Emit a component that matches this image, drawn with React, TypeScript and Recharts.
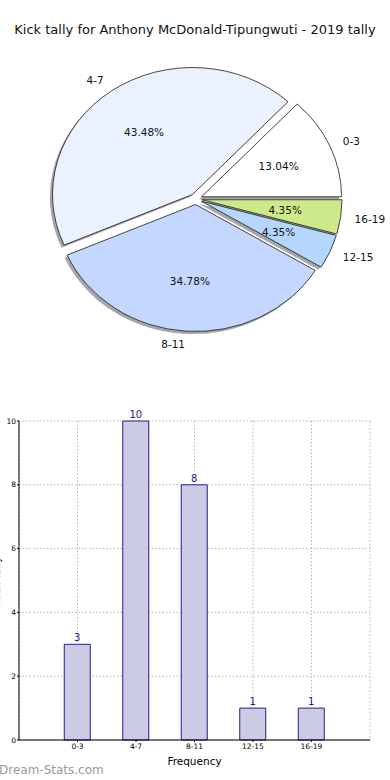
import React from 'react';
import { PieChart, Pie, BarChart, Bar, XAxis, YAxis, CartesianGrid, LabelList, Cell } from 'recharts';

const title = 'Kick tally for Anthony McDonald-Tipungwuti - 2019 tally';
const categories = ['0-3', '4-7', '8-11', '12-15', '16-19'];
const tallies = [3, 10, 8, 1, 1];
const sliceColors = ['#ffffff', '#eaf2ff', '#c4d8ff', '#b5d6ff', '#cdea8a'];
const yTicks = [0, 2, 4, 6, 8, 10];
const xAxisTitle = 'Frequency';
const yAxisTitle = 'Kick Tally';
const watermark = 'Dream-Stats.com';

const pieData = categories.map((name, i) => ({ name, value: tallies[i] }));
const barData = categories.map((name, i) => ({ name, value: tallies[i] }));

const FONT = '"DejaVu Sans", Verdana, sans-serif';
const RAD = Math.PI / 180;
const SX = 140 / 127;
const EXPLODE = 5.5;

const offsetFor = (mid: number) => ({
  dx: EXPLODE * SX * Math.cos(mid * RAD),
  dy: -EXPLODE * Math.sin(mid * RAD),
});

const ellPath = (cx: number, cy: number, r: number, start: number, end: number) => {
  const a0 = Math.min(start, end);
  const a1 = Math.max(start, end);
  const rx = r * SX;
  const ry = r;
  const x0 = cx + rx * Math.cos(a0 * RAD);
  const y0 = cy - ry * Math.sin(a0 * RAD);
  const x1 = cx + rx * Math.cos(a1 * RAD);
  const y1 = cy - ry * Math.sin(a1 * RAD);
  const large = a1 - a0 > 180 ? 1 : 0;
  return `M ${cx} ${cy} L ${x0} ${y0} A ${rx} ${ry} 0 ${large} 0 ${x1} ${y1} Z`;
};

const WedgeShape = (props: any) => {
  const { cx, cy, outerRadius, startAngle, endAngle, fill } = props;
  const mid = (startAngle + endAngle) / 2;
  const { dx, dy } = offsetFor(mid);
  return (
    <path
      d={ellPath(cx + dx, cy + dy, outerRadius, startAngle, endAngle)}
      fill={fill}
      stroke="#1a1a1a"
      strokeWidth={0.8}
      strokeLinejoin="miter"
    />
  );
};

const ShadowShape = (props: any) => {
  const { cx, cy, outerRadius, startAngle, endAngle } = props;
  const mid = (startAngle + endAngle) / 2;
  const { dx, dy } = offsetFor(mid);
  return (
    <path
      d={ellPath(cx + dx - 2.6, cy + dy + 2.6, outerRadius, startAngle, endAngle)}
      fill="#4d4d4d"
      fillOpacity={0.5}
      stroke="none"
    />
  );
};

const renderLabel = (props: any) => {
  const { cx, cy, midAngle, outerRadius, percent, name } = props;
  const { dx, dy } = offsetFor(midAngle);
  const c = Math.cos(midAngle * RAD);
  const s = Math.sin(midAngle * RAD);
  const px = cx + dx + 0.6 * outerRadius * SX * c;
  const py = cy + dy - 0.6 * outerRadius * s;
  const lx = cx + dx + 1.1 * outerRadius * SX * c;
  const ly = cy + dy - 1.1 * outerRadius * s;
  return (
    <g>
      <text x={px} y={py} textAnchor="middle" dominantBaseline="central" fontSize={10.5} fontFamily={FONT} fill="#111">
        {(percent * 100).toFixed(2) + '%'}
      </text>
      <text x={lx} y={ly} textAnchor={c >= 0 ? 'start' : 'end'} dominantBaseline="central" fontSize={10.5} fontFamily={FONT} fill="#111">
        {name}
      </text>
    </g>
  );
};

const YLabel = (props: any) => {
  const vb = props.viewBox || { x: 0, y: 31, width: 19, height: 319 };
  const cy = vb.y + vb.height / 2;
  return (
    <text x={-4} y={cy} transform={`rotate(-90, -4, ${cy})`} textAnchor="middle" dominantBaseline="central" fontSize={10.5} fontFamily={FONT} fill="#000">
      {yAxisTitle}
    </text>
  );
};

export default function App() {
  return (
    <div style={{ position: 'absolute', left: 0, top: 0, width: 390, height: 780, background: '#fff', overflow: 'hidden', fontFamily: FONT }}>
      <div style={{ position: 'absolute', left: 0, top: 21, width: 390, textAlign: 'center', fontSize: 13, lineHeight: '18px', color: '#111', whiteSpace: 'nowrap', fontFamily: FONT }}>
        {title}
      </div>
      <div style={{ position: 'absolute', left: 0, top: 0 }}>
        <PieChart width={390} height={390} margin={{ top: 0, right: 0, bottom: 0, left: 0 }}>
          <Pie
            data={pieData}
            dataKey="value"
            nameKey="name"
            cx={196}
            cy={199}
            outerRadius={127}
            startAngle={0}
            endAngle={360}
            isAnimationActive={false}
            shape={ShadowShape}
            activeShape={ShadowShape}
            inactiveShape={ShadowShape}
            label={false}
            labelLine={false}
            stroke="none"
          >
            {pieData.map((d, i) => (
              <Cell key={d.name} fill={sliceColors[i]} />
            ))}
          </Pie>
          <Pie
            data={pieData}
            dataKey="value"
            nameKey="name"
            cx={196}
            cy={199}
            outerRadius={127}
            startAngle={0}
            endAngle={360}
            isAnimationActive={false}
            shape={WedgeShape}
            activeShape={WedgeShape}
            inactiveShape={WedgeShape}
            label={renderLabel}
            labelLine={false}
            stroke="#1a1a1a"
          >
            {pieData.map((d, i) => (
              <Cell key={d.name} fill={sliceColors[i]} />
            ))}
          </Pie>
        </PieChart>
      </div>
      <div style={{ position: 'absolute', left: 0, top: 390 }}>
        <BarChart width={390} height={390} data={barData} margin={{ top: 31, right: 20, bottom: 0, left: 0 }} style={{ overflow: 'visible' }}>
          <CartesianGrid strokeDasharray="1.5 2" stroke="#b5b5b5" />
          <XAxis
            dataKey="name"
            padding={{ left: 29.25, right: 29.25 }}
            height={40}
            interval={0}
            tickSize={2}
            tickMargin={2}
            tickLine={{ stroke: '#000' }}
            axisLine={{ stroke: '#000' }}
            tick={{ fontSize: 7.5, fill: '#000', fontFamily: FONT }}
            label={{ value: xAxisTitle, position: 'insideBottom', offset: 15, fontSize: 10.5, fill: '#000', fontFamily: FONT }}
          />
          <YAxis
            domain={[0, 10]}
            ticks={yTicks}
            width={19}
            tickSize={2}
            tickMargin={1}
            tickLine={{ stroke: '#000' }}
            axisLine={{ stroke: '#000' }}
            tick={{ fontSize: 7.5, fill: '#000', fontFamily: FONT }}
            label={<YLabel />}
          />
          <XAxis xAxisId="top" orientation="top" dataKey="name" height={0} tick={false} tickLine={false} axisLine={{ stroke: '#000' }} padding={{ left: 29.25, right: 29.25 }} />
          <YAxis yAxisId="right" orientation="right" width={0} domain={[0, 10]} ticks={yTicks} tick={false} tickLine={false} axisLine={{ stroke: '#000' }} />
          <Bar dataKey="value" fill="#cbcbe3" stroke="#0a0a8a" strokeWidth={0.9} barSize={26} isAnimationActive={false}>
            <LabelList dataKey="value" position="top" offset={3} fill="#1a1a8c" fontSize={10} fontFamily={FONT} />
          </Bar>
        </BarChart>
      </div>
      <div style={{ position: 'absolute', left: -1, top: 762, fontSize: 12, lineHeight: '16px', color: '#9a9a9a', fontFamily: FONT, whiteSpace: 'nowrap' }}>
        {watermark}
      </div>
    </div>
  );
}
